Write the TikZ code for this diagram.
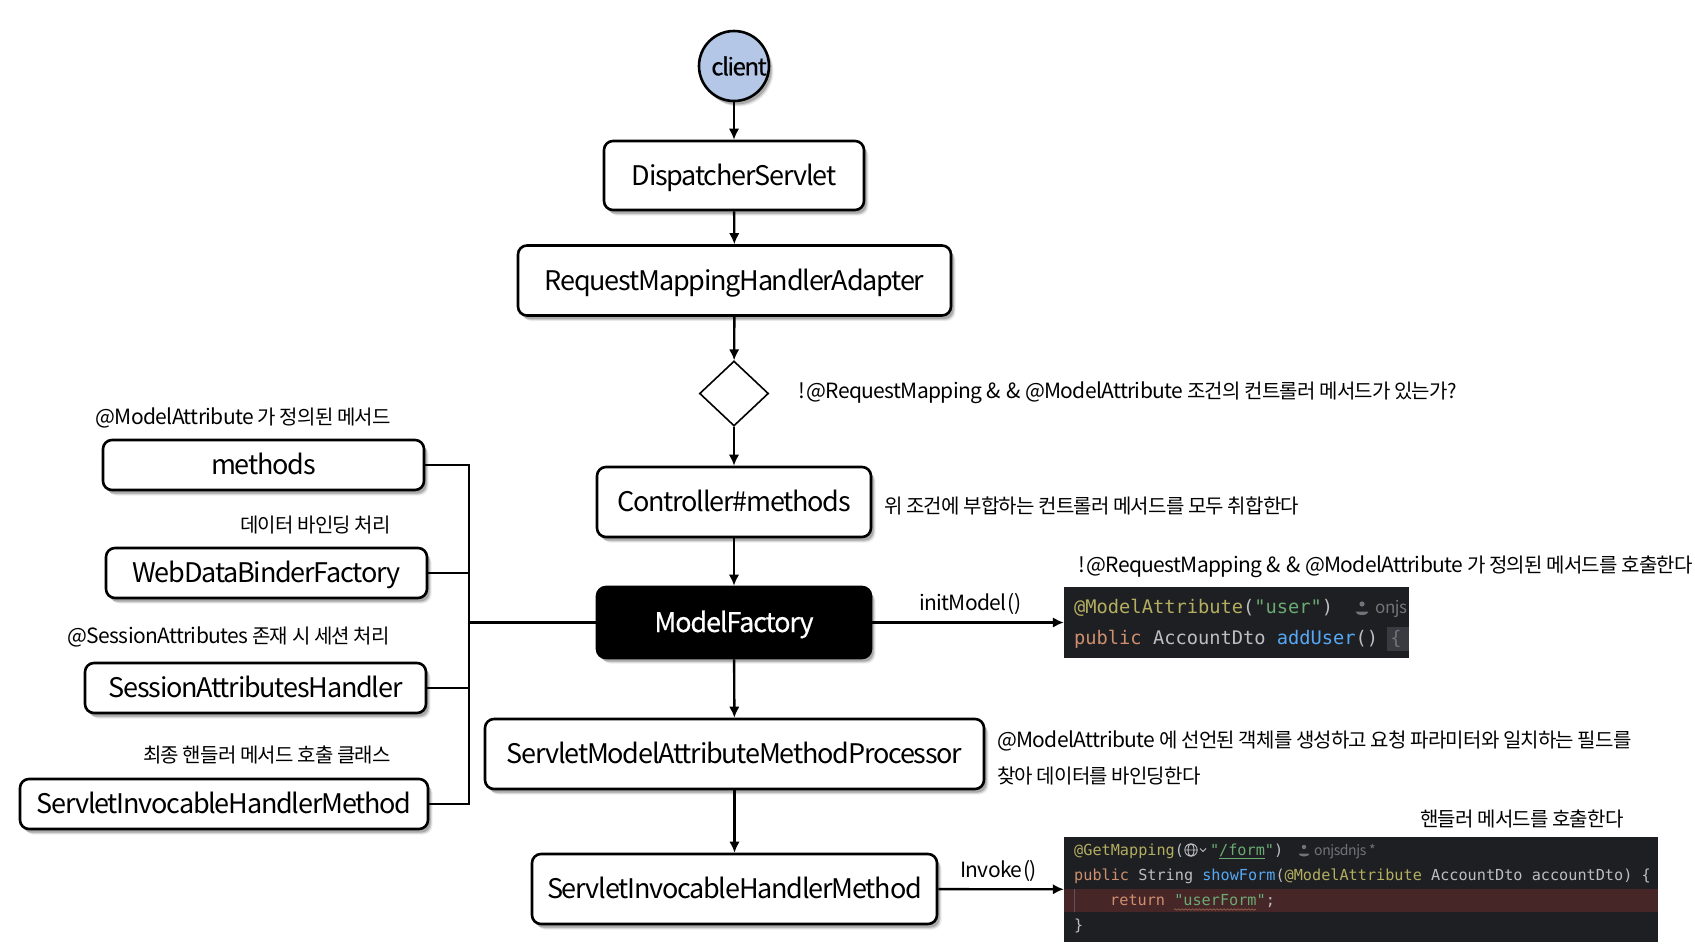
\documentclass[tikz,border=0pt]{standalone}
\usepackage{fontspec}
\setmainfont{Noto Sans CJK KR}
\newfontfamily\codefont{DejaVu Sans Mono}
\usetikzlibrary{shapes.geometric,shadows,arrows.meta,decorations.pathmorphing}
\definecolor{cbg}{HTML}{1E1F22}
\definecolor{cred}{HTML}{472628}
\definecolor{cann}{HTML}{B3AE60}
\definecolor{cstr}{HTML}{6AAB73}
\definecolor{cblu}{HTML}{56A8F5}
\definecolor{cora}{HTML}{CF8E6D}
\definecolor{ctxt}{HTML}{BCBEC4}
\definecolor{cdim}{HTML}{6F737A}
\definecolor{cblock}{HTML}{393B40}
\definecolor{cclient}{HTML}{B4C7E7}
\newcommand{\kr}[1]{{\fontsize{20}{25}\selectfont\addfontfeature{LetterSpace=-4}#1}}
\tikzset{
  softshade/.style={
    drop shadow={shadow xshift=4.5pt,shadow yshift=-5.5pt,opacity=.07,fill=black},
    drop shadow={shadow xshift=3.5pt,shadow yshift=-4.5pt,opacity=.12,fill=black},
    drop shadow={shadow xshift=2.5pt,shadow yshift=-3.5pt,opacity=.18,fill=black}},
  box/.style={draw=black,line width=2.6pt,rounded corners=9pt,fill=white,softshade,inner sep=0pt,
    text height=21pt,text depth=2pt,
    font=\fontsize{27}{32}\selectfont\addfontfeature{LetterSpace=-4.5}},
  flow/.style={line width=2.4pt,-{Latex[length=11pt,width=10.5pt]}},
  wire/.style={line width=2.4pt},
  note/.style={inner sep=0pt,text height=22pt,text depth=5pt,font=\fontsize{21}{25}\selectfont\addfontfeature{LetterSpace=-3}},
  codeline/.style={inner sep=0pt,anchor=base west,text=ctxt},
  codeA/.style={codeline,font=\codefont\fontsize{18.7}{22}\selectfont},
  codeB/.style={codeline,font=\codefont\fontsize{15.2}{18}\selectfont},
}
\begin{document}
\begin{tikzpicture}[x=1pt,y=-1pt]
\useasboundingbox[fill=white] (0,0) rectangle (1695,951);
% main column
\node[circle,draw=black,line width=2.6pt,fill=cclient,softshade,minimum size=70pt,inner sep=0pt,
  font=\fontsize{24}{28}\selectfont\addfontfeature{LetterSpace=-6,FakeBold=0.4}] (client) at (734,66) {\makebox[0pt]{\hspace{10pt}client}};
\node[box,minimum width=260pt,minimum height=69pt] (ds) at (734,175.5) {DispatcherServlet};
\node[box,minimum width=433pt,minimum height=70pt] (rm) at (734.5,280.5) {RequestMappingHandlerAdapter};
\node[diamond,draw=black,line width=1.6pt,fill=white,minimum width=69pt,minimum height=65pt,inner sep=0pt,aspect=1] (dec) at (734,393.5) {};
\node[box,minimum width=274pt,minimum height=70pt] (cm) at (734,502) {Controller\#methods};
\node[box,fill=black,text=white,minimum width=274pt,minimum height=71pt,
  font=\fontsize{27}{32}\selectfont\addfontfeature{LetterSpace=-4.2,FakeBold=0.4}] (mf) at (734,622.5) {ModelFactory};
\node[box,minimum width=499pt,minimum height=70pt] (sp) at (734.5,754) {ServletModelAttributeMethodProcessor};
\node[box,minimum width=405pt,minimum height=70pt] (sh) at (734.5,889) {ServletInvocableHandlerMethod};
% left column
\node[box,minimum width=321pt,minimum height=50pt] (m1) at (263.5,465) {methods};
\node[box,minimum width=321pt,minimum height=50pt] (m2) at (266.5,573) {WebDataBinderFactory};
\node[box,minimum width=341pt,minimum height=50pt] (m3) at (255.5,688) {SessionAttributesHandler};
\node[box,minimum width=408pt,minimum height=50pt] (m4) at (224,804) {ServletInvocableHandlerMethod};
\coordinate (bus) at (469,622.5);
% code panels
\node[fill=cbg,minimum width=345pt,minimum height=71pt,inner sep=0pt] (code1) at (1236.5,622.5) {};
\node[fill=cbg,minimum width=594pt,minimum height=105pt,inner sep=0pt] (code2) at (1361,889.5) {};
% connectors
\draw[flow] (client) -- (ds);
\draw[flow] (ds) -- (rm);
\draw[flow] (rm) -- (dec);
\draw[flow] (dec) -- (cm);
\draw[flow] (cm) -- (mf);
\draw[flow] (mf) -- (sp);
\draw[flow] (sp) -- (sh);
\draw[flow] (mf) -- (code1);
\draw[flow] (sh) -- (code2);
\draw[wire] (mf) -- (bus);
\draw[wire] (m1.east) -| (bus);
\draw[wire] (m2.east) -| (bus);
\draw[wire] (m3.east) -| (bus);
\draw[wire] (m4.east) -| (bus);
% notes
\node[note,anchor=west] (n1) at (798,390) {!\hspace{1.5pt}@RequestMapping \&\hspace{6pt}\& @ModelAttribute \kr{조건의 컨트롤러 메서드가 있는가?}};
\node[note,anchor=west] (n2) at (884,505) {\kr{위 조건에 부합하는 컨트롤러 메서드를 모두 취합한다}};
\node[note,anchor=west] (n3) at (1078,564) {!\hspace{1.5pt}@RequestMapping \&\hspace{6pt}\& @ModelAttribute \kr{가 정의된 메서드를 호출한다}};
\node[note,anchor=west] (n4) at (919,602) {initModel\hspace{1pt}()};
\node[note,anchor=west] (n5) at (997,739) {@ModelAttribute \kr{에 선언된 객체를 생성하고 요청 파라미터와 일치하는 필드를}};
\node[note,anchor=west] (n6) at (997,775) {\kr{찾아 데이터를 바인딩한다}};
\node[note,anchor=west] (n7) at (1420,818) {\kr{핸들러 메서드를 호출한다}};
\node[note,anchor=west] (n8) at (960,869) {Invoke\hspace{1pt}()};
\node[note,anchor=east] (l1) at (391,416) {@ModelAttribute \kr{가 정의된 메서드}};
\node[note,anchor=east] (l2) at (391,524) {\kr{데이터 바인딩 처리}};
\node[note,anchor=east] (l3) at (390,635) {@SessionAttributes \kr{존재 시 세션 처리}};
\node[note,anchor=east] (l4) at (391,754) {\kr{최종 핸들러 메서드 호출 클래스}};
% code panel 1
\begin{scope}
\clip (code1.north west) rectangle (code1.south east);
\fill[cblock] (1387,627) rectangle (1409,651);
\node[codeA] (c1a) at (1074,613) {\textcolor{cann}{@ModelAttribute}(\textcolor{cstr}{"user"})};
\fill[cdim] (1362,604) circle (2.6pt);
\fill[cdim] (1355.5,611.5) arc (180:0:6.5 and 3.5) -- cycle;
\node[inner sep=0pt,anchor=base west,text=cdim,font=\fontsize{17}{20}\selectfont\addfontfeature{LetterSpace=-3}] (c1o) at (1375,613) {onjs};
\node[codeA] (c1b) at (1074,644) {\textcolor{cora}{public} AccountDto \textcolor{cblu}{addUser}() \hspace{1pt}\textcolor{cdim}{\{}};
\end{scope}
% code panel 2
\fill[cred] (code2.west |- 0,889) rectangle (code2.east |- 0,912);
\draw[cdim,line width=.6pt,opacity=.6] (1074,889) -- (1074,912);
\node[codeB] (c2a) at (1074,855) {\textcolor{cann}{@GetMapping}(\hspace{26pt}\textcolor{cstr}{"\underline{/form}"})};
\draw[ctxt,line width=.9pt] (1191,850) circle (6.2pt) (1184.8,850) -- (1197.2,850) (1191,850) ellipse (3pt and 6.2pt);
\draw[ctxt,line width=.9pt] (1200,848.5) -- (1203,851.5) -- (1206,848.5);
\fill[cdim] (1304,847) circle (2.2pt);
\fill[cdim] (1298.5,853.5) arc (180:0:5.5 and 3) -- cycle;
\node[inner sep=0pt,anchor=base west,text=cdim,font=\fontsize{14}{18}\selectfont\addfontfeature{LetterSpace=-3}] (c2o) at (1314,855) {onjsdnjs *};
\node[codeB] (c2b) at (1074,880) {\textcolor{cora}{public} String \textcolor{cblu}{showForm}(\textcolor{cann}{@ModelAttribute} AccountDto accountDto) \{};
\node[codeB] (c2c) at (1110,905.5) {\textcolor{cora}{return} \textcolor{cstr}{"userForm"}\textcolor{ctxt}{;}};
\draw[cora!70!black,line width=.7pt,decorate,decoration={snake,amplitude=.7pt,segment length=3.5pt}] (1174,909.5) -- (1256,909.5);
\node[codeB] (c2d) at (1074,930) {\}};
\end{tikzpicture}
\end{document}
